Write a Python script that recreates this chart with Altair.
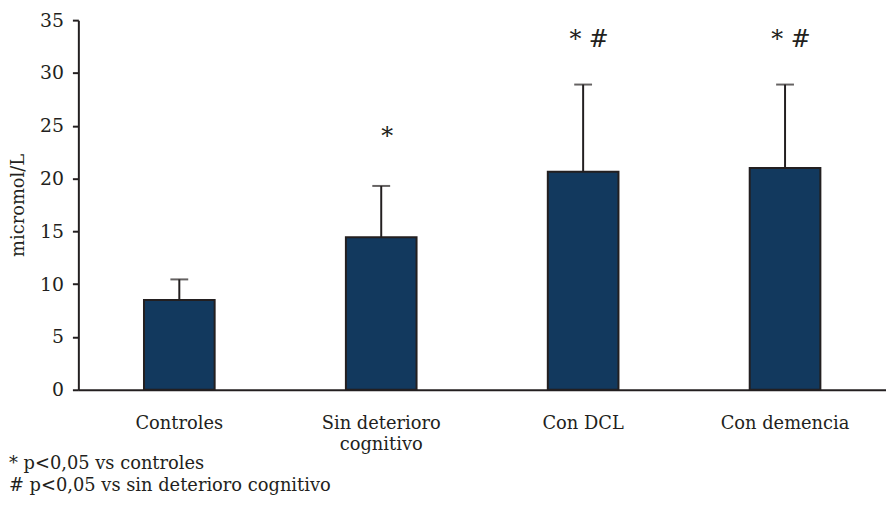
import altair as alt
import pandas as pd

categories = ["Controles", "Sin deterioro cognitivo", "Con DCL", "Con demencia"]
means = [8.5, 14.45, 20.65, 21.0]
upper = [10.45, 19.3, 28.9, 28.9]
marks = ["", "*", "* #", "* #"]
mark_y = [23.9, 23.9, 33.1, 33.1]
footnotes = ["* p<0,05 vs controles", "# p<0,05 vs sin deterioro cognitivo"]

df = pd.DataFrame({"cat": categories, "mean": means, "upper": upper,
                   "sig": marks, "sig_y": mark_y})
one = pd.DataFrame({"k": [0]})

FONT = "DejaVu Serif"
INK = "#231f20"

x = alt.X("cat:N", sort=categories,
          scale=alt.Scale(paddingInner=0.65, paddingOuter=0.325),
          axis=alt.Axis(title=None, labelAngle=0, ticks=False, labelFont=FONT,
                        labelFontSize=18, labelColor=INK, labelPadding=25,
                        domainColor=INK, domainWidth=2, labelLineHeight=21,
                        labelBaseline="top",
                        labelExpr="datum.label == 'Sin deterioro cognitivo' ? ['Sin deterioro', 'cognitivo'] : datum.label"))
y = alt.Y("mean:Q", scale=alt.Scale(domain=[0, 35], nice=False),
          axis=alt.Axis(title="micromol/L", values=[0, 5, 10, 15, 20, 25, 30, 35],
                        grid=False, tickSize=6, tickWidth=2, tickColor=INK,
                        domainColor=INK, domainWidth=2, labelFont=FONT,
                        labelFontSize=19, labelColor=INK, labelPadding=9,
                        titleFont=FONT, titleFontSize=18, titleFontWeight="normal",
                        titleColor=INK, titlePadding=12))

base = alt.Chart(df)
bars = base.mark_bar(color="#12395e", stroke=INK, strokeWidth=2).encode(x=x, y=y)
err = base.mark_rule(color=INK, strokeWidth=2).encode(
    x=alt.X("cat:N", sort=categories), y="mean:Q", y2="upper:Q")
cap = base.mark_tick(color=INK, thickness=2, size=18).encode(
    x=alt.X("cat:N", sort=categories), y="upper:Q")
sig = base.mark_text(font=FONT, fontSize=24, color=INK, dx=6).encode(
    x=alt.X("cat:N", sort=categories), y="sig_y:Q", text="sig:N")
note1 = alt.Chart(one).mark_text(font=FONT, fontSize=18, color=INK, align="left",
                                 baseline="middle").encode(
    x=alt.value(-70), y=alt.value(448), text=alt.value(footnotes[0]))
note2 = alt.Chart(one).mark_text(font=FONT, fontSize=18, color=INK, align="left",
                                 baseline="middle").encode(
    x=alt.value(-70), y=alt.value(470), text=alt.value(footnotes[1]))

chart = alt.layer(bars, err, cap, sig, note1, note2).properties(
    width=815, height=373,
    autosize=alt.AutoSizeParams(type="none"),
    padding={"left": 71, "top": 10, "right": 0, "bottom": 110},
).configure_view(stroke=None)

chart.save("out.html", embed_options={"renderer": "svg", "actions": False})
